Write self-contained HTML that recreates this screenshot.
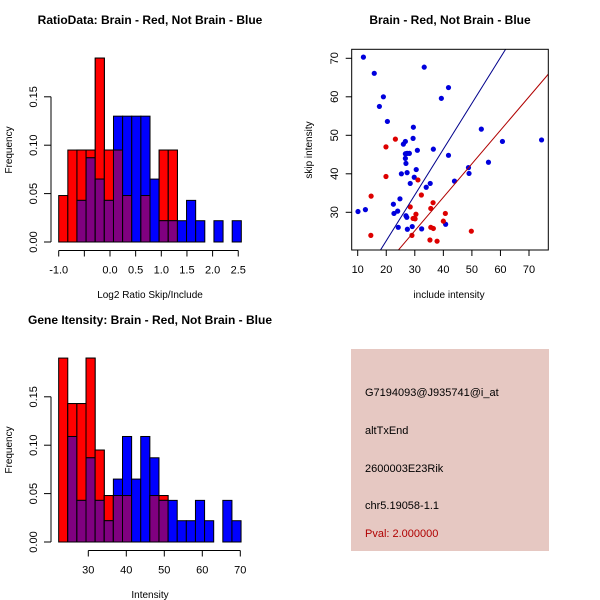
<!DOCTYPE html>
<html><head><meta charset="utf-8"><style>
html,body{margin:0;padding:0;background:#fff;}
svg{display:block;font-family:"Liberation Sans",sans-serif;}
</style></head><body>
<svg id="c" width="600" height="600" viewBox="0 0 600 600"></svg>
<script>
// ---- data: ratio histogram (20 bins from -1.0, width 0.178)
const ratioBinStart = -1.0;
const ratioBinWidth = 0.178;
const ratioRed  = [0.048,0.095,0.095,0.095,0.19,0.095,0.095,0.048,0,0.048,0,0.095,0.095,0,0,0,0,0,0,0];
const ratioBlue = [0,0,0.043,0.087,0.065,0.043,0.13,0.13,0.13,0.13,0.065,0.022,0.022,0.022,0.043,0.022,0,0.022,0,0.022];
const ratioXTicks = [-1.0,-0.5,0.0,0.5,1.0,1.5,2.0,2.5];
const ratioXTickLabels = ["-1.0","","0.0","0.5","1.0","1.5","2.0","2.5"];
const freqTicks = [0,0.05,0.10,0.15];
const freqTickLabels = ["0.00","0.05","0.10","0.15"];
// ---- data: intensity histogram (20 bins from 22.2, width 2.4)
const intBinStart = 22.2;
const intBinWidth = 2.4;
const intRed  = [0.19,0.143,0.143,0.19,0.095,0.048,0.048,0.048,0,0,0.048,0.048,0,0,0,0,0,0,0,0];
const intBlue = [0,0.109,0.043,0.087,0.043,0.022,0.065,0.109,0.065,0.109,0.087,0.043,0.043,0.022,0.022,0.043,0.022,0,0.043,0.022];
const intXTicks = [30,40,50,60,70];
// ---- data: scatter
const blueX = [10.1,12.7,12.0,15.8,19.0,17.6,20.4,22.5,24.8,22.7,24.0,24.2,25.3,26.0,26.7,26.7,26.7,26.9,26.9,27.2,27.3,27.4,28.1,27.3,28.4,29.1,29.4,29.5,29.8,30.5,30.9,34.0,35.4,36.5,33.3,39.3,41.8,41.8,40.8,43.9,32.4,48.8,49.0,53.3,55.8,60.7,74.4];
const blueY = [30.2,30.7,70.3,66.1,60.0,57.5,53.6,32.1,33.5,29.7,30.3,26.1,40.0,47.7,48.4,45.2,44.0,42.7,29.1,28.7,40.3,25.6,45.3,45.3,37.5,26.3,49.2,52.1,39.1,41.1,46.1,36.5,37.5,46.4,67.7,59.6,62.4,44.8,26.9,38.1,25.7,41.6,40.1,51.6,43.0,48.4,48.8];
const redX = [14.6,14.7,19.9,19.9,23.2,28.4,29.0,29.4,29.7,30.4,30.1,31.1,32.3,35.3,35.6,35.6,36.4,36.5,37.8,40.0,40.7,49.8];
const redY = [24.0,34.2,39.3,47.0,49.0,31.4,24.0,28.4,28.4,29.5,28.3,38.4,34.5,22.8,31.0,26.1,32.5,25.8,22.5,27.7,29.7,25.1];
const blueFit = [-1.2,1.19]; // intercept, slope
const redFit = [-0.9,0.87];
const scXTicks = [10,20,30,40,50,60,70];
const scYTicks = [30,40,50,60,70];
const infoLines = ["G7194093@J935741@i_at","altTxEnd","2600003E23Rik","chr5.19058-1.1"];
const pvalText = "Pval: 2.000000";

const svg = document.getElementById('c');
const NS = 'http://www.w3.org/2000/svg';
function mk(tag, attrs, parent){const e=document.createElementNS(NS,tag);for(const k in attrs)e.setAttribute(k,attrs[k]);(parent||svg).appendChild(e);return e;}
function txt(s, attrs, parent){const e=mk('text',attrs,parent);e.textContent=s;return e;}

function histogram(name, title, xlabel, top, bin0, bw, red, blue, xScale, xTicks, xTickLabels){
  const g = mk('g',{});
  
  
  const y0 = top+202, ppu = 968;
  const yS = v => y0 - v*ppu;
  const t = txt(title,{x:150,y:top-16,'text-anchor':'middle','font-size':12,'font-weight':'bold'},g);
  
  
  for(let i=0;i<red.length;i++){
    const xa = xScale(bin0+i*bw), xb = xScale(bin0+(i+1)*bw);
    const r = red[i], b = blue[i], m = Math.min(r,b);
    if(r>0){const e=mk('rect',{x:xa,y:yS(r),width:xb-xa,height:y0-yS(r),fill:'#ff0000',stroke:'#000','stroke-width':1},g);
      
      }
    if(b>0){const e=mk('rect',{x:xa,y:yS(b),width:xb-xa,height:y0-yS(b),fill:'#0000ff',stroke:'#000','stroke-width':1},g);
      
      }
    if(r>0&&b>0&&r>b){const e=mk('rect',{x:xa,y:yS(r),width:xb-xa,height:yS(b)-yS(r),fill:'#ff0000',stroke:'#000','stroke-width':1},g);
      
      }
    if(m>0){const e=mk('rect',{x:xa,y:yS(m),width:xb-xa,height:y0-yS(m),fill:'#800080',stroke:'#000','stroke-width':1},g);
      
      }
  }
  const ya = mk('g',{},g);
  
  
  mk('line',{x1:51,x2:51,y1:yS(0),y2:yS(0.15),stroke:'#000'},ya);
  freqTicks.forEach((v,i)=>{
    mk('line',{x1:44,x2:51,y1:yS(v),y2:yS(v),stroke:'#000'},ya);
    txt(freqTickLabels[i],{x:37,y:yS(v),'font-size':11,'text-anchor':'middle',transform:`rotate(-90 37 ${yS(v)})`},ya);
  });
  const yl = txt('Frequency',{x:12,y:top+110,'font-size':10,'text-anchor':'middle',transform:`rotate(-90 12 ${top+110})`},g);
  
  
  const xa = mk('g',{},g);
  
  
  const ay = top+210.5;
  mk('line',{x1:xScale(xTicks[0]),x2:xScale(xTicks[xTicks.length-1]),y1:ay,y2:ay,stroke:'#000'},xa);
  xTicks.forEach((v,i)=>{
    mk('line',{x1:xScale(v),x2:xScale(v),y1:ay,y2:ay+6,stroke:'#000'},xa);
    txt(xTickLabels[i],{x:xScale(v),y:ay+23,'font-size':11,'text-anchor':'middle'},xa);
  });
  const xl = txt(xlabel,{x:150,y:top+258,'font-size':10,'text-anchor':'middle'},g);
  
  
}

const rxS = v => 58.7 + (v+1)*51.3;
histogram('ratio-histogram','RatioData: Brain - Red, Not Brain - Blue','Log2 Ratio Skip/Include',40,ratioBinStart,ratioBinWidth,ratioRed,ratioBlue,rxS,ratioXTicks,ratioXTickLabels);
const ixS = v => 88.3 + (v-30)*3.8;
histogram('intensity-histogram','Gene Itensity: Brain - Red, Not Brain - Blue','Intensity',340,intBinStart,intBinWidth,intRed,intBlue,ixS,intXTicks,intXTicks.map(String));

const sg = mk('g',{});


const sx = v => 357.7 + (v-10)*2.855;
const sy = v => 212.3 - (v-30)*3.85;
const st = txt('Brain - Red, Not Brain - Blue',{x:450,y:24,'text-anchor':'middle','font-size':12,'font-weight':'bold'},sg);


mk('clipPath',{id:'clip'},sg).appendChild(document.createElementNS(NS,'rect'));
const cr = svg.querySelector('#clip rect');
cr.setAttribute('x',351.7);cr.setAttribute('y',49.3);cr.setAttribute('width',196.6);cr.setAttribute('height',200.7);
blueX.forEach((v,i)=>{
  const c = mk('circle',{cx:sx(v),cy:sy(blueY[i]),r:2.6,fill:'#0000dd'},sg);
  
  
});
redX.forEach((v,i)=>{
  const c = mk('circle',{cx:sx(v),cy:sy(redY[i]),r:2.6,fill:'#dd0000'},sg);
  
  
});
[[blueFit,'#00008b','fit-line-blue'],[redFit,'#b00000','fit-line-red']].forEach(([f,col,nm])=>{
  const l = mk('line',{x1:sx(0),y1:sy(f[0]),x2:sx(100),y2:sy(f[0]+f[1]*100),stroke:col,'stroke-width':1,'clip-path':'url(#clip)'},sg);
  
  
});
mk('rect',{x:351.7,y:49.3,width:196.6,height:200.7,fill:'none',stroke:'#000'},sg);
const sxa = mk('g',{},sg);


scXTicks.forEach(v=>{
  mk('line',{x1:sx(v),x2:sx(v),y1:250,y2:256,stroke:'#000'},sxa);
  txt(String(v),{x:sx(v),y:273,'font-size':11,'text-anchor':'middle'},sxa);
});
const sya = mk('g',{},sg);


scYTicks.forEach(v=>{
  mk('line',{x1:345.7,x2:351.7,y1:sy(v),y2:sy(v),stroke:'#000'},sya);
  txt(String(v),{x:338,y:sy(v),'font-size':11,'text-anchor':'middle',transform:`rotate(-90 338 ${sy(v)})`},sya);
});
const sxl = txt('include intensity',{x:449,y:298,'font-size':10,'text-anchor':'middle'},sg);


const syl = txt('skip intensity',{x:312,y:150,'font-size':10,'text-anchor':'middle',transform:'rotate(-90 312 150)'},sg);



const ip = mk('g',{});


mk('rect',{x:351,y:349,width:198,height:202,fill:'#e6c8c2'},ip);
const ys=[396,434,472,509];
infoLines.forEach((s,i)=>{
  const t = txt(s,{x:365,y:ys[i],'font-size':11,fill:'#000'},ip);
  
  
});
const pv = txt(pvalText,{x:365,y:537,'font-size':11,fill:'#b00000'},ip);


</script>
</body></html>
